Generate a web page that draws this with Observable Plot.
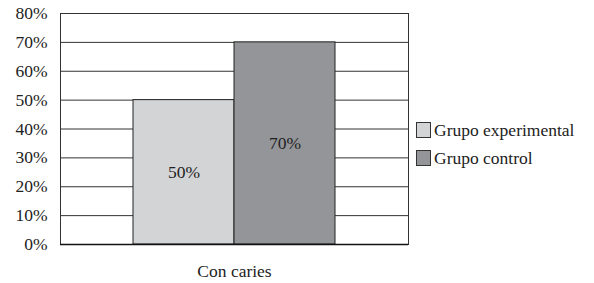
<!DOCTYPE html>
<html><head><meta charset="utf-8">
<script src="https://cdn.jsdelivr.net/npm/d3@7"></script>
<script src="https://cdn.jsdelivr.net/npm/@observablehq/plot@0.6"></script>
<style>body{margin:0;background:#fff}</style></head>
<body>
<div id="wrap" style="position:relative;width:594px;height:283px"></div>
<script>
const categories = ["Con caries"];
const groups = ["Grupo experimental", "Grupo control"];
const values = [0.5, 0.7];
const colors = ["#d3d4d6", "#939598"];
const yTicks = [0, 0.1, 0.2, 0.3, 0.4, 0.5, 0.6, 0.7, 0.8];

const data = groups.map((g, i) => ({category: categories[0], group: g, value: values[i]}));
const pct = d => Math.round(d * 100) + "%";

const chart = Plot.plot({
  width: 594, height: 283,
  marginLeft: 60, marginRight: 186, marginTop: 13, marginBottom: 39,
  style: {fontFamily: "Liberation Serif", fontSize: "17.5px", color: "#222", background: "#fff"},
  fx: {domain: categories, padding: 0, label: null, tickSize: 0, tickPadding: 20, axis: "bottom"},
  x: {domain: groups, paddingInner: 0, paddingOuter: 0.706, axis: null},
  y: {domain: [0, 0.8], ticks: yTicks, tickFormat: pct, tickSize: 0, tickPadding: 13, label: null},
  color: {domain: groups, range: colors},
  marks: [
    Plot.ruleY(yTicks, {stroke: "#333", strokeWidth: 1}),
    Plot.frame({stroke: "#333"}),
    Plot.barY(data, {fx: "category", x: "group", y: "value", fill: "group", stroke: "#222", strokeWidth: 1}),
    Plot.text(data, {fx: "category", x: "group", y: d => d.value / 2, text: d => pct(d.value), fill: "#222", fontFamily: "Liberation Serif"}),
    Plot.ruleY([0], {stroke: "#111", strokeWidth: 1.5})
  ]
});
const wrap = document.getElementById("wrap");
wrap.append(chart);

const legend = document.createElement("div");
legend.style.position = "absolute";
legend.style.left = "416px";
legend.style.top = "116px";
wrap.append(legend);
groups.forEach((g, i) => {
  const item = document.createElement("div");
  item.style.display = "flex";
  item.style.alignItems = "center";
  item.style.height = "28px";
  item.style.whiteSpace = "nowrap";
  const sw = document.createElement("span");
  sw.style.width = "13px";
  sw.style.height = "14px";
  sw.style.border = "1px solid #333";
  sw.style.marginRight = "3px";
  sw.style.background = colors[i];
  const t = document.createElement("div");
  t.style.fontFamily = "'Liberation Serif', serif";
  t.style.fontSize = "17.5px";
  t.style.color = "#222";
  t.textContent = g;
  item.append(sw, t);
  legend.append(item);
});
</script>
</body></html>
